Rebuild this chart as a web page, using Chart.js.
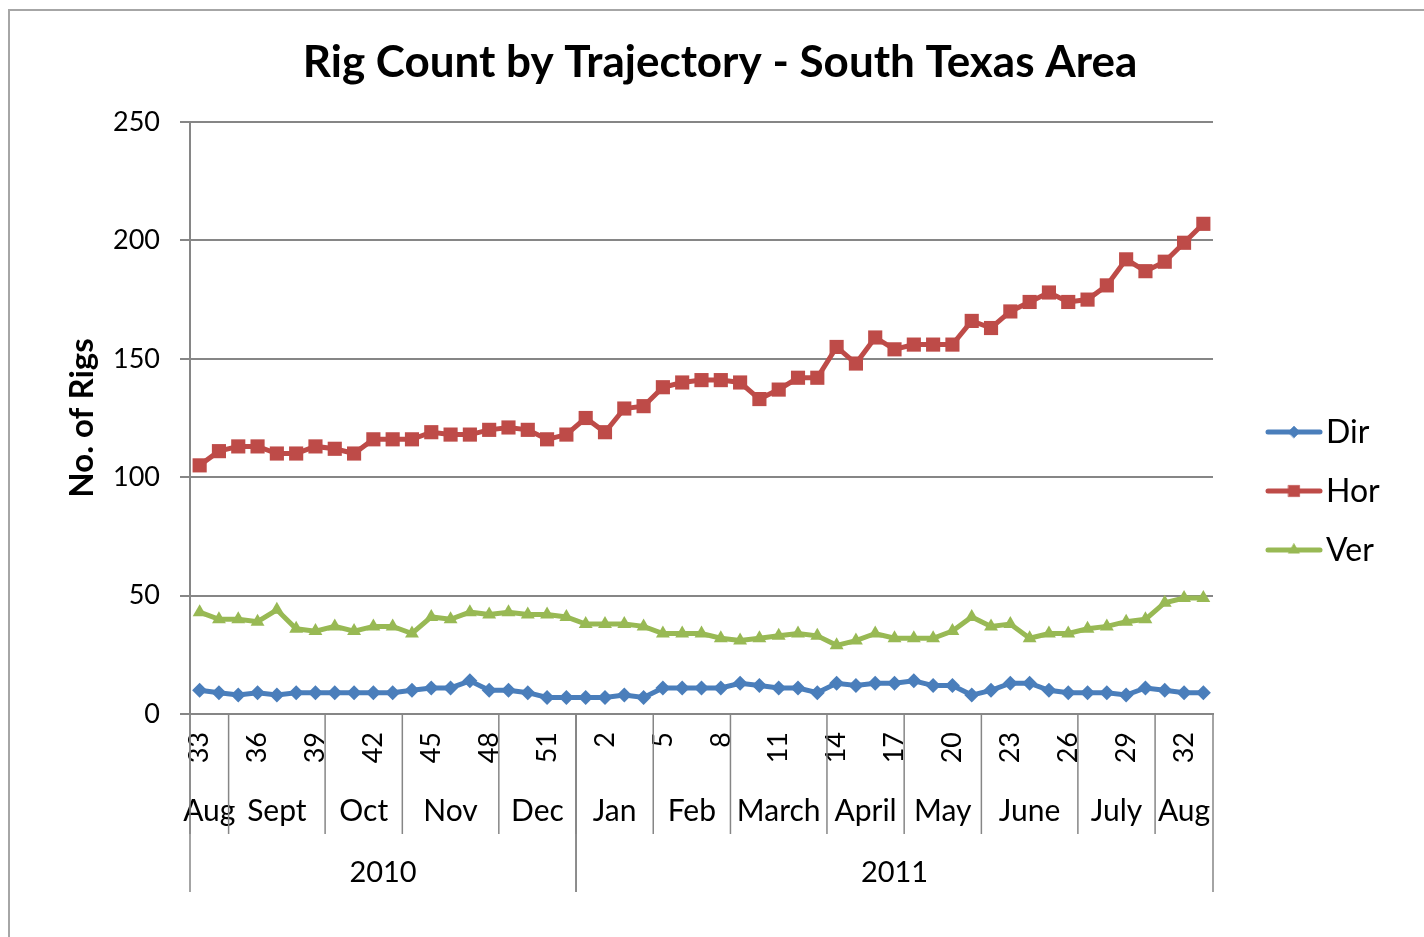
<!DOCTYPE html>
<html>
<head>
<meta charset="utf-8">
<title>Rig Count by Trajectory - South Texas Area</title>
<script src="https://cdn.jsdelivr.net/npm/chart.js@4/dist/chart.umd.min.js"></script>
<style>
  html, body { margin: 0; padding: 0; background: #fff; }
  #wrap { width: 1424px; height: 937px; position: relative; }
</style>
</head>
<body>
<div id="wrap"><canvas id="rigChart"></canvas></div>
<script>
// week numbers, one point per week (Aug 2010 .. Aug 2011)
const weeks = [33, 34, 35, 36, 37, 38, 39, 40, 41, 42, 43, 44, 45, 46, 47, 48, 49, 50, 51, 52,
  1, 2, 3, 4, 5, 6, 7, 8, 9, 10, 11, 12, 13, 14, 15, 16, 17, 18, 19, 20, 21, 22, 23, 24, 25, 26,
  27, 28, 29, 30, 31, 32, 33];

// month groups (name, number of weeks) and year groups (name, number of weeks)
const months = ['Aug', 'Sept', 'Oct', 'Nov', 'Dec', 'Jan', 'Feb', 'March', 'April', 'May', 'June', 'July', 'Aug'];
const monthWeeks = [2, 5, 4, 5, 4, 4, 4, 5, 4, 4, 5, 4, 3];
const years = ['2010', '2011'];
const yearWeeks = [20, 33];

const dirRigs = [10, 9, 8, 9, 8, 9, 9, 9, 9, 9, 9, 10, 11, 11, 14, 10, 10, 9, 7, 7,
  7, 7, 8, 7, 11, 11, 11, 11, 13, 12, 11, 11, 9, 13, 12, 13, 13, 14, 12, 12,
  8, 10, 13, 13, 10, 9, 9, 9, 8, 11, 10, 9, 9];
const horRigs = [105, 111, 113, 113, 110, 110, 113, 112, 110, 116, 116, 116, 119, 118, 118, 120, 121, 120, 116, 118,
  125, 119, 129, 130, 138, 140, 141, 141, 140, 133, 137, 142, 142, 155, 148, 159, 154, 156, 156, 156,
  166, 163, 170, 174, 178, 174, 175, 181, 192, 187, 191, 199, 207];
const verRigs = [43, 40, 40, 39, 44, 36, 35, 37, 35, 37, 37, 34, 41, 40, 43, 42, 43, 42, 42, 41,
  38, 38, 38, 37, 34, 34, 34, 32, 31, 32, 33, 34, 33, 29, 31, 34, 32, 32, 32, 35,
  41, 37, 38, 32, 34, 34, 36, 37, 39, 40, 47, 49, 49];

const yTicks = [0, 50, 100, 150, 200, 250];

const FONT = 'Lato, "Open Sans", sans-serif';
const AXIS_GREY = '#868686';

// multi-level category labels below the week ticks + legend + title + frame
const excelBits = {
  id: 'excelBits',
  beforeDraw(chart) {
    const ctx = chart.ctx;
    ctx.save();
    ctx.fillStyle = '#fff';
    ctx.fillRect(0, 0, chart.width, chart.height);
    ctx.strokeStyle = '#a6a6a6';
    ctx.lineWidth = 2;
    ctx.strokeRect(9, 10, 1600, 1200);
    ctx.restore();
  },
  afterDraw(chart) {
    const ctx = chart.ctx;
    const x = chart.scales.x;
    const area = chart.chartArea;
    const half = (x.getPixelForValue(1) - x.getPixelForValue(0)) / 2;
    const edge = i => x.getPixelForValue(i) - half;

    ctx.save();
    ctx.strokeStyle = AXIS_GREY;
    ctx.lineWidth = 1.5;
    ctx.fillStyle = '#000';
    ctx.textAlign = 'center';
    ctx.textBaseline = 'middle';

    // months
    ctx.font = '30px ' + FONT;
    let start = 0;
    months.forEach((m, k) => {
      const end = start + monthWeeks[k];
      const l = edge(start), r = edge(end);
      ctx.beginPath();
      ctx.moveTo(l, area.bottom); ctx.lineTo(l, 834);
      ctx.stroke();
      ctx.fillText(m, (l + r) / 2, 811);
      start = end;
    });

    // years
    ctx.font = '29px ' + FONT;
    start = 0;
    years.forEach((yName, k) => {
      const end = start + yearWeeks[k];
      const l = edge(start), r = edge(end);
      ctx.beginPath();
      ctx.moveTo(l, area.bottom); ctx.lineTo(l, 892);
      ctx.moveTo(r, area.bottom); ctx.lineTo(r, 892);
      ctx.stroke();
      ctx.fillText(yName, (l + r) / 2, 873);
      start = end;
    });

    // title
    ctx.font = 'bold 44px ' + FONT;
    ctx.fillText('Rig Count by Trajectory - South Texas Area', 720, 63);

    // legend
    ctx.textAlign = 'left';
    ctx.font = '32px ' + FONT;
    chart.data.datasets.forEach((ds, i) => {
      const y = 432 + i * 59;
      ctx.strokeStyle = ds.borderColor;
      ctx.fillStyle = ds.borderColor;
      ctx.lineWidth = 5;
      ctx.lineCap = 'round';
      ctx.beginPath();
      ctx.moveTo(1268, y); ctx.lineTo(1320, y);
      ctx.stroke();
      ctx.lineWidth = 0.5;
      Chart.helpers.drawPoint(ctx, {
        pointStyle: ds.pointStyle, radius: ds.pointRadius * 0.8, borderWidth: 0.5
      }, 1294, y);
      ctx.fillStyle = '#000';
      ctx.fillText(ds.label, 1326, y + 1);
    });
    ctx.restore();
  }
};

const ctx = document.getElementById('rigChart');
new Chart(ctx, {
  type: 'line',
  data: {
    labels: weeks,
    datasets: [
      {
        label: 'Dir', data: dirRigs,
        borderColor: '#4A7EBB', backgroundColor: '#4A7EBB',
        pointStyle: 'rectRot', pointRadius: 7.5, pointBorderWidth: 0,
        borderWidth: 5, tension: 0, order: 3
      },
      {
        label: 'Hor', data: horRigs,
        borderColor: '#BE4B48', backgroundColor: '#BE4B48',
        pointStyle: 'rect', pointRadius: 10, pointBorderWidth: 0,
        borderWidth: 5, tension: 0, order: 2
      },
      {
        label: 'Ver', data: verRigs,
        borderColor: '#98B954', backgroundColor: '#98B954',
        pointStyle: 'triangle', pointRadius: 8, pointBorderWidth: 0,
        borderWidth: 5, tension: 0, order: 1
      }
    ]
  },
  options: {
    responsive: true,
    maintainAspectRatio: false,
    animation: false,
    layout: { padding: { top: 122, right: 211, bottom: 0, left: 0 } },
    plugins: {
      legend: { display: false },
      title: { display: false },
      tooltip: { enabled: false }
    },
    scales: {
      x: {
        offset: true,
        grid: { display: false, drawTicks: false, offset: true },
        border: { display: true, color: AXIS_GREY, width: 2 },
        ticks: {
          autoSkip: false,
          minRotation: 90,
          maxRotation: 90,
          padding: 18,
          color: '#000',
          font: { family: FONT, size: 27 },
          callback: (v, i) => (i % 3 === 0 ? String(weeks[i]) : '')
        },
        afterFit: s => { s.height = 937 - 714; }
      },
      y: {
        min: 0,
        max: 250,
        afterBuildTicks: s => { s.ticks = yTicks.map(v => ({ value: v })); },
        grid: { color: AXIS_GREY, lineWidth: 2, tickLength: 10, drawTicks: true },
        border: { color: AXIS_GREY, width: 2 },
        ticks: {
          padding: 20,
          color: '#000',
          font: { family: FONT, size: 27 }
        },
        title: {
          display: true,
          text: 'No. of Rigs',
          color: '#000',
          font: { family: FONT, size: 33, weight: 'bold' },
          padding: { top: 63, bottom: 0 }
        },
        afterFit: s => { s.width = 190; }
      }
    }
  },
  plugins: [excelBits]
});
</script>
</body>
</html>
